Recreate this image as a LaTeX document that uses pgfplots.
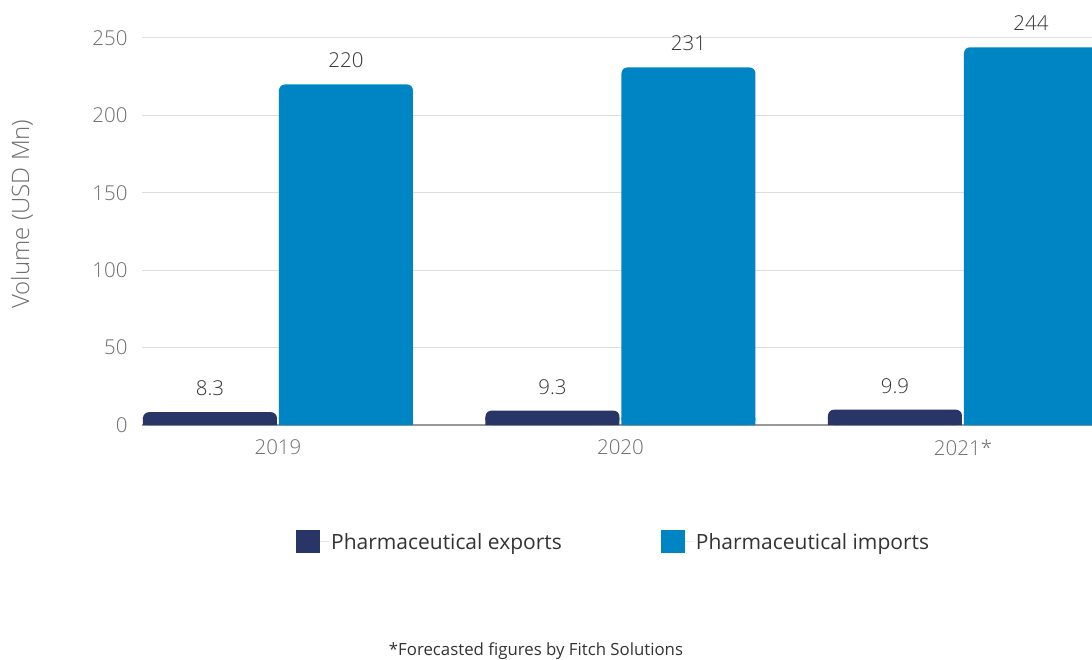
\documentclass[border=0pt]{standalone}
\usepackage{fontspec}
\IfFontExistsTF{Open Sans Light}{\setmainfont{Open Sans Light}\newfontfamily\regfont{Open Sans}}{\setmainfont{Open Sans}\newfontfamily\regfont{Open Sans}}
\usepackage{pgfplots}
\usepackage{pgfplotstable}
\pgfplotsset{compat=1.18}
\definecolor{expc}{HTML}{293566}
\definecolor{impc}{HTML}{0085C4}
\definecolor{ticktxt}{HTML}{6E6E6E}
\definecolor{valtxt}{HTML}{333333}
\pgfplotstableread{
x exp imp
0 8.3 220
1 9.3 231
2 9.9 244
}\data
\begin{document}
\begin{tikzpicture}
\useasboundingbox (0pt,0pt) rectangle (1092pt,659pt);
\begin{axis}[
  at={(142pt,234pt)}, anchor=south west,
  x=342.5pt, y=1.548pt,
  xmin=-0.397, xmax=2.377, ymin=0, ymax=250,
  axis lines=left,
  x axis line style={-, color=black!40, line width=1.2pt},
  y axis line style={draw=none},
  xtick={0,1,2}, xticklabels={2019,2020,2021*},
  ytick={0,50,...,250},
  major tick length=0pt,
  ymajorgrids, major grid style={color=black!13, line width=1pt},
  /pgf/number format/assume math mode=true,
  tick label style={font=\fontsize{20.5}{24}\selectfont, text=ticktxt},
  yticklabel style={xshift=-11pt},
  xticklabel style={yshift=-11pt},
  nodes near coords style={font=\fontsize{20.5}{24}\selectfont, text=valtxt, anchor=base, inner sep=0pt, yshift=16.5pt},
  legend columns=2,
  legend style={at={(0.162,-0.302)}, anchor=west, draw=none, fill=none,
    font=\regfont\fontsize{21}{24}\selectfont, text=valtxt, inner sep=0pt,
    /tikz/every even column/.append style={column sep=97pt}},
  legend image code/.code={\fill[#1, sharp corners] (0pt,-11.5pt) rectangle (24pt,11.5pt); \path (0pt,0pt) -- (33pt,0pt);},
]
\addplot[ybar, bar width=134pt, bar shift=-68pt, fill=expc, draw=none, rounded corners=6pt, nodes near coords, every node near coord/.append style={xshift=-68pt}] table[x=x, y=exp]{\data};
\addlegendentry{Pharmaceutical exports}
\addplot[ybar, bar width=134pt, bar shift=-68pt, fill=expc, draw=none, forget plot] table[x=x, y expr={min(\thisrow{exp},5)}]{\data};
\addplot[ybar, bar width=134pt, bar shift=68pt, fill=impc, draw=none, rounded corners=6pt, nodes near coords, every node near coord/.append style={xshift=68pt}] table[x=x, y=imp]{\data};
\addlegendentry{Pharmaceutical imports}
\addplot[ybar, bar width=134pt, bar shift=68pt, fill=impc, draw=none, forget plot] table[x=x, y expr={min(\thisrow{imp},5)}]{\data};
\end{axis}
\node[rotate=90, font=\fontsize{24}{28}\selectfont, text=ticktxt] at (22pt,445pt) {Volume (USD Mn)};
\node[font=\regfont\fontsize{16.8}{20}\selectfont, text=valtxt] at (536pt,8pt) {*Forecasted figures by Fitch Solutions};
\end{tikzpicture}
\end{document}
